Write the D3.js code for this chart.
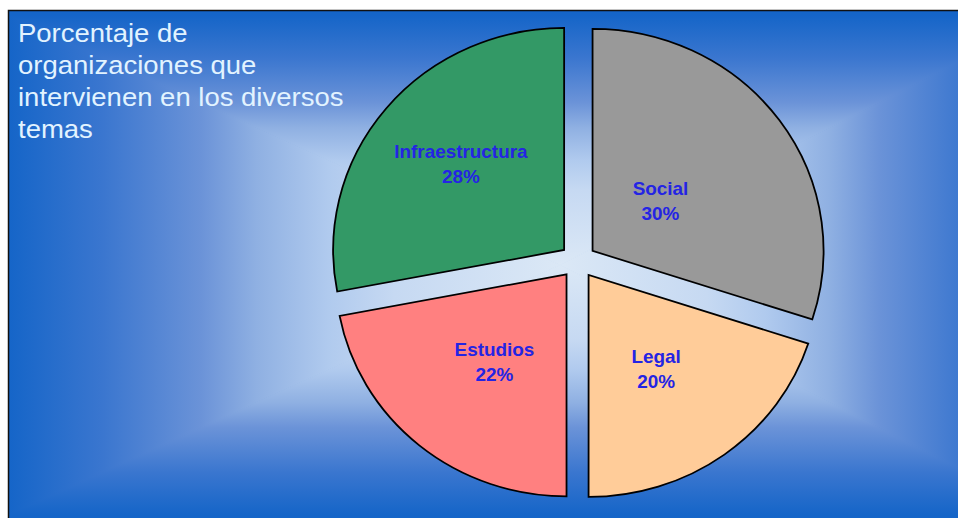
<!DOCTYPE html>
<html>
<head>
<meta charset="utf-8">
<script src="https://cdn.jsdelivr.net/npm/d3@7"></script>
<style>
  body { margin: 0; background: #fff; }
  svg { display: block; }
</style>
</head>
<body>
<div id="chart"></div>
<script>
// chart data
const categories = ["Social", "Legal", "Estudios", "Infraestructura"];
const values = [30, 20, 22, 28];
const colors = ["#999999", "#ffcc99", "#ff8080", "#339966"];
const titleLines = ["Porcentaje de", "organizaciones que", "intervienen en los diversos", "temas"];

const W = 958, H = 518;
const cx = 578, cy = 261;
const radius = 231;
const squash = 0.961;   // pie is a little flatter than round
const explode = 18;
// manual label distances from the centre (like the original's nudged labels)
const labelDist = [102, 133, 131, 152];

const svg = d3.select("#chart")
  .append("svg")
    .attr("width", W)
    .attr("height", H);

const defs = svg.append("defs");

// background: rectangular "from centre" gradient, built from 4 triangles
const gc = { x: 560, y: 265 };
const box = { x0: 8, y0: 15, x1: 1050, y1: 515 };
const stops = [
  [0, "#dbe8f6"], [0.3, "#c6d9f2"], [0.42, "#b0caee"], [0.55, "#8fb0e2"],
  [0.65, "#6b93d8"], [0.83, "#3a76cf"], [1, "#1565c8"]
];

defs.append("clipPath").attr("id", "panel")
  .append("rect").attr("x", 8).attr("y", 10).attr("width", W).attr("height", H);

const tris = [
  { id: "gt", pts: [[gc.x, gc.y], [box.x0, box.y0], [box.x1, box.y0]], to: [gc.x, box.y0] },
  { id: "gb", pts: [[gc.x, gc.y], [box.x0, box.y1], [box.x1, box.y1]], to: [gc.x, box.y1] },
  { id: "gl", pts: [[gc.x, gc.y], [box.x0, box.y0], [box.x0, box.y1]], to: [box.x0, gc.y] },
  { id: "gr", pts: [[gc.x, gc.y], [box.x1, box.y0], [box.x1, box.y1]], to: [box.x1, gc.y] }
];

tris.forEach(t => {
  const lg = defs.append("linearGradient")
    .attr("id", t.id)
    .attr("gradientUnits", "userSpaceOnUse")
    .attr("x1", gc.x).attr("y1", gc.y)
    .attr("x2", t.to[0]).attr("y2", t.to[1]);
  stops.forEach(s => lg.append("stop").attr("offset", s[0]).attr("stop-color", s[1]));
});

const bg = svg.append("g").attr("clip-path", "url(#panel)");
bg.append("rect")
  .attr("x", 8).attr("y", 10)
  .attr("width", W).attr("height", H)
  .attr("fill", "#1565c8");
bg.selectAll("polygon")
  .data(tris)
  .join("polygon")
    .attr("points", d => d.pts.map(p => p.join(",")).join(" "))
    .attr("fill", d => `url(#${d.id})`)
    .attr("stroke", d => `url(#${d.id})`)
    .attr("stroke-width", 1);

svg.append("rect")
  .attr("x", 8.5).attr("y", 10.5)
  .attr("width", W).attr("height", H)
  .attr("fill", "none")
  .attr("stroke", "#111")
  .attr("stroke-width", 1.5);

// title
svg.append("text")
  .attr("transform", "translate(18,42) scale(1.1,1)")
  .attr("font-family", "Liberation Sans, Arial, sans-serif")
  .attr("font-size", 25)
  .attr("fill", "#e2f3ff")
  .selectAll("tspan")
  .data(titleLines)
  .join("tspan")
    .attr("x", 0)
    .attr("dy", (d, i) => i === 0 ? 0 : 32)
    .text(d => d);

// pie
const pie = d3.pie().sort(null).value(d => d.value);
const arcs = pie(categories.map((c, i) => ({ name: c, value: values[i], color: colors[i] })));

const arc = d3.arc().innerRadius(0).outerRadius(radius);

const g = svg.append("g")
  .attr("transform", `translate(${cx},${cy}) scale(1,${squash})`);

g.selectAll("path")
  .data(arcs)
  .join("path")
    .attr("d", arc)
    .attr("transform", d => {
      const m = (d.startAngle + d.endAngle) / 2;
      return `translate(${Math.sin(m) * explode},${-Math.cos(m) * explode})`;
    })
    .attr("fill", d => d.data.color)
    .attr("stroke", "#000")
    .attr("stroke-width", 1.8)
    .attr("stroke-linejoin", "miter");

// labels
const labels = svg.append("g")
  .attr("font-family", "Liberation Sans, Arial, sans-serif")
  .attr("font-size", 17.5)
  .attr("font-weight", "bold")
  .attr("fill", "#2424e4")
  .attr("text-anchor", "middle");

labels.selectAll("text")
  .data(arcs)
  .join("text")
    .attr("transform", (d, i) => {
      const m = (d.startAngle + d.endAngle) / 2;
      const x = cx + Math.sin(m) * labelDist[i];
      const y = cy - Math.cos(m) * labelDist[i];
      return `translate(${x},${y}) scale(1.08,1)`;
    })
    .each(function(d) {
      const t = d3.select(this);
      t.append("tspan").attr("x", 0).attr("y", -6).text(d.data.name);
      t.append("tspan").attr("x", 0).attr("y", 19).text(Math.round(d.data.value) + "%");
    });
</script>
</body>
</html>
